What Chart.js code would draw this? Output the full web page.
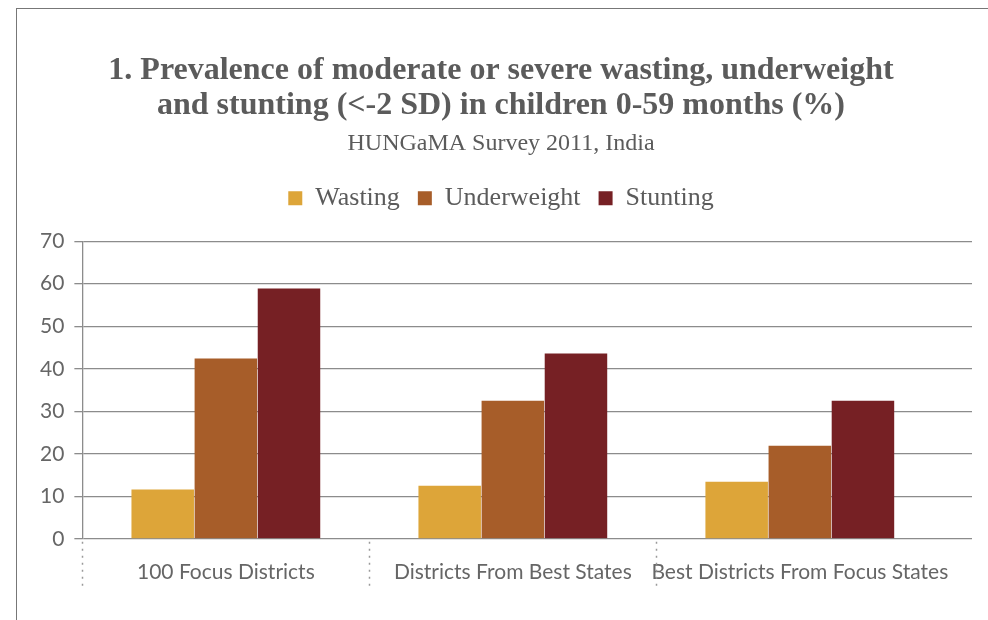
<!DOCTYPE html>
<html>
<head>
<meta charset="utf-8">
<script src="https://cdn.jsdelivr.net/npm/chart.js@4/dist/chart.umd.min.js"></script>
<style>
  html, body { margin: 0; padding: 0; background: #fff; }
  #wrap { position: relative; width: 988px; height: 620px; overflow: hidden; }
  #frame { position: absolute; left: 16px; top: 8px; width: 1000px; height: 700px;
           border-left: 1.5px solid #777; border-top: 1.5px solid #777; }
  canvas { position: absolute; left: 0; top: 0; }
</style>
</head>
<body>
<div id="wrap">
  <div id="frame"></div>
  <canvas id="myChart" width="988" height="620"></canvas>
</div>
<script>
// chart data
const categories = ['100 Focus Districts', 'Districts From Best States', 'Best Districts From Focus States'];
const wasting = [11.6, 12.5, 13.4];
const underweight = [42.4, 32.5, 21.9];
const stunting = [58.9, 43.6, 32.5];
const yTicks = [0, 10, 20, 30, 40, 50, 60, 70];
const dividerAt = [-0.5, 0.5, 1.5];

const grey = '#5b5b5b';
const serif = '"Liberation Serif", "DejaVu Serif", serif';
const sans = 'Lato, "Open Sans", sans-serif';

// dotted separators between category labels
const dividers = {
  id: 'dividers',
  afterDraw(chart) {
    const ctx = chart.ctx;
    const x = chart.scales.x;
    const bottom = chart.chartArea.bottom;
    ctx.save();
    ctx.strokeStyle = '#9a9a9a';
    ctx.lineWidth = 1.5;
    ctx.setLineDash([2, 5]);
    dividerAt.forEach(v => {
      const px = Math.round(x.getPixelForValue(v)) + 0.5;
      ctx.beginPath();
      ctx.moveTo(px, bottom + 3);
      ctx.lineTo(px, bottom + 52);
      ctx.stroke();
    });
    ctx.restore();
  }
};

// more room between the legend and the plot
const legendGap = {
  id: 'legendGap',
  beforeInit(chart) {
    const legend = chart.legend;
    if (!legend) return;
    const fit = legend.fit;
    legend.fit = function () {
      fit.call(this);
      this.height += 20;
    };
  }
};

const toPoints = arr => arr.map((v, i) => ({ x: i, y: v }));

const ctx = document.getElementById('myChart').getContext('2d');

const myChart = new Chart(ctx, {
  type: 'bar',
  data: {
    datasets: [
      { label: 'Wasting', data: toPoints(wasting), backgroundColor: '#DDA539' },
      { label: 'Underweight', data: toPoints(underweight), backgroundColor: '#A75D29' },
      { label: 'Stunting', data: toPoints(stunting), backgroundColor: '#762024' }
    ]
  },
  plugins: [dividers, legendGap],
  options: {
    responsive: false,
    animation: false,
    devicePixelRatio: 1,
    layout: { padding: { top: 53, left: 30, right: 16, bottom: 14 } },
    datasets: {
      bar: { categoryPercentage: 0.66, barPercentage: 0.99, borderWidth: 0 }
    },
    scales: {
      x: {
        type: 'linear',
        offset: false,
        min: -0.5,
        max: 2.6,
        afterBuildTicks: s => { s.ticks = categories.map((c, i) => ({ value: i })); },
        grid: { display: false, drawTicks: false },
        border: { display: false },
        ticks: {
          callback: v => categories[v],
          color: '#666',
          font: { family: sans, size: 21 },
          padding: 21,
          maxRotation: 0,
          autoSkip: false
        }
      },
      y: {
        min: 0,
        max: 70,
        afterBuildTicks: s => { s.ticks = yTicks.map(v => ({ value: v })); },
        grid: { color: '#8c8c8c', lineWidth: 1.3, tickLength: 8 },
        border: { display: true, color: '#8c8c8c', width: 1.3 },
        ticks: {
          color: '#666',
          font: { family: sans, size: 21 },
          padding: 10
        }
      }
    },
    plugins: {
      legend: {
        display: true,
        position: 'top',
        labels: {
          color: grey,
          boxWidth: 14,
          boxHeight: 14,
          padding: 18,
          font: { family: serif, size: 26 }
        }
      },
      title: {
        display: true,
        text: ['1. Prevalence of moderate or severe wasting, underweight',
               'and stunting (<-2 SD) in children 0-59 months (%)'],
        color: grey,
        font: { family: serif, size: 32, weight: 'bold', lineHeight: 1.1 },
        padding: { top: 0, bottom: 6 }
      },
      subtitle: {
        display: true,
        text: 'HUNGaMA Survey 2011, India',
        color: grey,
        font: { family: serif, size: 24, lineHeight: 1.2 },
        padding: { top: 0, bottom: 9 }
      },
      tooltip: { enabled: false }
    }
  }
});
</script>
</body>
</html>
